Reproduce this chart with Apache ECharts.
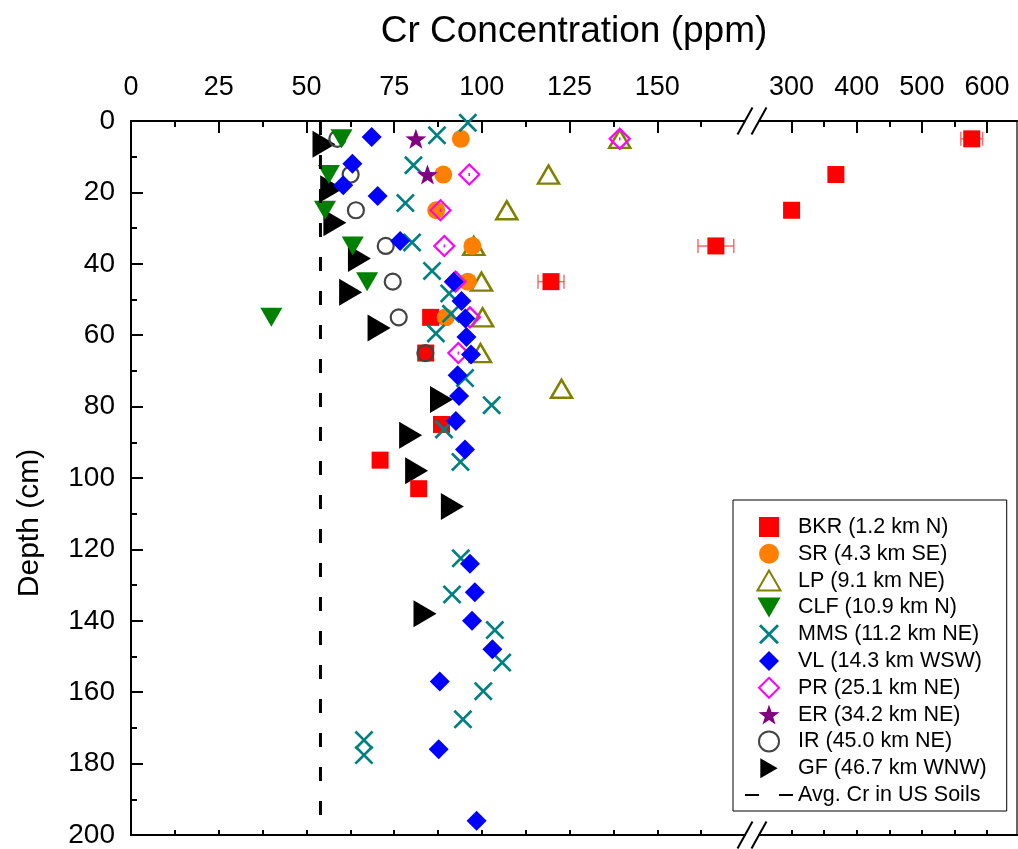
<!DOCTYPE html>
<html><head><meta charset="utf-8">
<script src="https://cdn.jsdelivr.net/npm/echarts@6/dist/echarts.min.js"></script>
<style>html,body{margin:0;padding:0;background:#fff}#c{width:1018px;height:849px}</style>
</head><body><div id="c"></div>
<script>
const FONT = '"Liberation Sans", Arial, sans-serif';

// ---- axis ticks ----
const leftTicks = [0, 25, 50, 75, 100, 125, 150];
const leftMinorTicks = [12.5, 37.5, 62.5, 87.5, 112.5, 137.5, 162.5];
const leftBottomTicks = [0, 12.5, 25, 37.5, 50, 62.5, 75, 87.5, 100, 112.5, 125, 137.5, 150, 162.5];
const rightTicks = [300, 400, 500, 600];
const rightMinorTicks = [350, 450, 550];
const rightBottomTicks = [300, 350, 400, 450, 500, 550, 600];

// ---- data (Cr ppm vs depth cm) ----
const avgCr = 54;
const bkrDepth = [5, 15, 25, 35, 45, 55, 65, 85, 95, 103];
const bkrCr    = [576.5, 368, 300, 166.7, 119.7, 85.4, 84, 88.5, 71, 82];
const bkrErr   = [16.7, 0, 0, 5.1, 3.7, 0, 0, 0, 0, 0];
const srDepth = [5, 15, 25, 35, 45, 55];
const srCr    = [94, 89, 87, 97.3, 96, 89.7];
const lpDepth = [5, 15, 25, 35, 45, 55, 65, 75];
const lpCr    = [139.3, 119, 107.1, 97.7, 99.9, 100.2, 99.6, 122.7];
const clfDepth = [5, 15, 25, 35, 45, 55];
const clfCr    = [60, 56.4, 55.3, 63.2, 67.3, 40];
const mmsDepth = [0.5, 4, 12.4, 23, 34, 42, 48.3, 54, 59.5, 72, 79.6, 86.4, 95.5, 122.5, 132.6, 142.6, 151.7, 159.7, 167.6, 173.4, 177.6];
const mmsCr    = [96, 87.2, 80.5, 78.2, 80.1, 85.8, 90.7, 91.2, 86.9, 95.2, 102.8, 89.2, 93.9, 94, 91.5, 103.7, 105.8, 100.4, 94.6, 66.4, 66.4];
const vlDepth = [4.5, 12, 18, 21, 33.6, 45, 50.4, 55.3, 60.5, 65.4, 71.2, 77, 84, 92, 124, 132, 140, 148, 157, 176, 196];
const vlCr    = [68.6, 63.1, 60.5, 70.3, 76.7, 92, 94.2, 95.3, 95.6, 96.9, 93.1, 93.5, 92.6, 95.2, 96.6, 98, 97.2, 103, 88, 87.7, 98.5];
const prDepth = [5, 15, 25, 35, 45, 55, 65];
const prCr    = [139.3, 96.4, 88.2, 89.3, 92.5, 96.6, 93.3];
const erDepth = [5, 15];
const erCr    = [81.2, 84.5];
const irDepth = [5, 15, 25, 35, 45, 55, 65];
const irCr    = [58.8, 62.6, 64.1, 72.6, 74.6, 76.3, 83.9];
const gfDepth = [6.5, 19, 28.5, 38.5, 48, 58, 78, 88, 98, 108, 138];
const gfCr    = [55, 57.2, 58.1, 65.1, 62.6, 70.7, 88.5, 79.7, 81.4, 91.6, 83.8];

const names = ['BKR (1.2 km N)', 'SR (4.3 km SE)', 'LP (9.1 km NE)', 'CLF (10.9 km N)', 'MMS (11.2 km NE)',
  'VL (14.3 km WSW)', 'PR (25.1 km NE)', 'ER (34.2 km NE)', 'IR (45.0 km NE)', 'GF (46.7 km WNW)', 'Avg. Cr in US Soils'];

const BREAK_LO = 175, BREAK_HI = 250;
function pts(cr, dep) { return cr.map((v, i) => [v, dep[i]]); }
const bkrAll = bkrCr.map((v, i) => [v, bkrDepth[i], bkrErr[i]]);
const bkrLeft = bkrAll.filter(p => p[0] <= BREAK_LO);
const bkrRight = bkrAll.filter(p => p[0] > BREAK_LO);

const SYM = {
  rect: 'path://M0,0L100,0L100,100L0,100Z',
  up: 'path://M50,0L100,86.6L0,86.6Z',
  diamond: 'path://M50,0L100,50L50,100L0,50Z',
  x: 'path://M0,10L10,0L50,40L90,0L100,10L60,50L100,90L90,100L50,60L10,100L0,90L40,50Z',
  star: 'path://M50,0L61.8,33.8L97.6,34.5L69,56.2L79.4,90.5L50,70L20.6,90.5L31,56.2L2.4,34.5L38.2,33.8Z',
  down: 'path://M0,0L100,0L50,86.6Z',
  right: 'path://M0,0L86.6,50L0,100Z'
};

function errSeries(data, xi, yi) {
  return {
    type: 'custom', xAxisIndex: xi, yAxisIndex: yi, silent: true,
    encode: { x: 0, y: 1 },
    data: data.filter(p => p[2] > 0),
    renderItem(params, api) {
      const x = api.value(0), y = api.value(1), e = api.value(2);
      const a = api.coord([x - e, y]), b = api.coord([x + e, y]);
      const st = { stroke: 'rgba(255,60,60,0.75)', lineWidth: 1.5 };
      return { type: 'group', children: [
        { type: 'line', shape: { x1: a[0], y1: a[1], x2: b[0], y2: b[1] }, style: st },
        { type: 'line', shape: { x1: a[0], y1: a[1] - 7, x2: a[0], y2: a[1] + 7 }, style: st },
        { type: 'line', shape: { x1: b[0], y1: b[1] - 7, x2: b[0], y2: b[1] + 7 }, style: st }
      ]};
    }
  };
}
function sc(name, data, symbol, size, style, xi, yi) {
  return { type: 'scatter', name, data, symbol, symbolSize: size,
    xAxisIndex: xi || 0, yAxisIndex: yi || 0, itemStyle: Object.assign({ opacity: 1 }, style),
    emphasis: { disabled: true } };
}

const axisLine = { show: true, lineStyle: { color: '#000', width: 2 } };
const noLine = { show: false };
const lab = { fontSize: 27, color: '#000', fontFamily: FONT };

const option = {
  animation: false,
  backgroundColor: '#fff',
  grid: [
    { left: 131, top: 121, width: 614, bottom: 14 },
    { left: 759, top: 121, width: 258, bottom: 14 }
  ],
  xAxis: [
    { gridIndex: 0, type: 'value', position: 'top', min: 0, max: BREAK_LO, axisLine,
      axisTick: { inside: true, length: 12, lineStyle: { width: 2, color: '#000' }, customValues: leftTicks },
      axisLabel: Object.assign({ margin: 20, customValues: leftTicks }, lab), splitLine: { show: false } },
    { gridIndex: 0, type: 'value', position: 'top', min: 0, max: BREAK_LO, axisLine: noLine,
      axisTick: { inside: true, length: 6, lineStyle: { width: 2, color: '#000' }, customValues: leftMinorTicks },
      axisLabel: { show: false }, splitLine: { show: false } },
    { gridIndex: 0, type: 'value', position: 'bottom', min: 0, max: BREAK_LO, axisLine,
      axisTick: { inside: true, length: 5, lineStyle: { width: 2, color: '#000' }, customValues: leftBottomTicks },
      axisLabel: { show: false }, splitLine: { show: false } },
    { gridIndex: 1, type: 'value', position: 'top', min: BREAK_HI, max: 646, axisLine,
      axisTick: { inside: true, length: 12, lineStyle: { width: 2, color: '#000' }, customValues: rightTicks },
      axisLabel: Object.assign({ margin: 20, customValues: rightTicks }, lab), splitLine: { show: false } },
    { gridIndex: 1, type: 'value', position: 'top', min: BREAK_HI, max: 646, axisLine: noLine,
      axisTick: { inside: true, length: 6, lineStyle: { width: 2, color: '#000' }, customValues: rightMinorTicks },
      axisLabel: { show: false }, splitLine: { show: false } },
    { gridIndex: 1, type: 'value', position: 'bottom', min: BREAK_HI, max: 646, axisLine,
      axisTick: { inside: true, length: 5, lineStyle: { width: 2, color: '#000' }, customValues: rightBottomTicks },
      axisLabel: { show: false }, splitLine: { show: false } }
  ],
  yAxis: [
    { gridIndex: 0, type: 'value', inverse: true, min: 0, max: 200, interval: 20, position: 'left', axisLine,
      axisTick: { inside: true, length: 12, lineStyle: { width: 2, color: '#000' } },
      minorTick: { show: true, splitNumber: 2, length: 6, lineStyle: { width: 2, color: '#000' } },
      axisLabel: Object.assign({ margin: 16 }, lab, { fontSize: 28 }), splitLine: { show: false } },
    { gridIndex: 1, type: 'value', inverse: true, min: 0, max: 200, position: 'right',
      axisLine: { show: true, lineStyle: { color: '#333', width: 1.5 } },
      axisTick: { show: false }, axisLabel: { show: false }, splitLine: { show: false } }
  ],
  legend: {
    orient: 'vertical', left: 733, top: 500,
    padding: [16, 20, 5, 11], itemWidth: 48, itemHeight: 20, itemGap: 4.8,
    borderColor: '#000', borderWidth: 1, backgroundColor: '#fff',
    textStyle: { fontSize: 21.5, color: '#000', fontFamily: FONT },
    selectedMode: false,
    data: names.map((n, i) => i === 10
      ? { name: n, itemStyle: { color: 'rgba(0,0,0,0)', borderWidth: 0, opacity: 0 } }
      : { name: n })
  },
  series: [
    { type: 'line', name: names[10], data: [[avgCr, 0], [avgCr, 200]], symbol: 'none', xAxisIndex: 0, yAxisIndex: 0,
      itemStyle: { color: 'rgba(0,0,0,0)' },
      lineStyle: { color: '#000', width: 3, type: [14, 20] }, silent: true },
    sc(names[9], pts(gfCr, gfDepth), SYM.right, [23, 27], { color: '#000' }),
    errSeries(bkrLeft, 0, 0),
    sc(names[0], bkrLeft.map(p => [p[0], p[1]]), SYM.rect, 17, { color: '#ff0000' }),
    errSeries(bkrRight, 3, 1),
    sc(names[0], bkrRight.map(p => [p[0], p[1]]), SYM.rect, 17, { color: '#ff0000' }, 3, 1),
    sc(names[8], pts(irCr, irDepth), 'circle', 16, { color: 'rgba(0,0,0,0)', borderColor: '#444', borderWidth: 2.2 }),
    sc(names[2], pts(lpCr, lpDepth), SYM.up, [21, 18], { color: 'rgba(0,0,0,0)', borderColor: '#808000', borderWidth: 2.5 }),
    sc(names[1], pts(srCr, srDepth), 'circle', 18, { color: '#ff8000' }),
    sc(names[3], pts(clfCr, clfDepth), SYM.down, [22, 19], { color: '#008000' }),
    sc(names[4], pts(mmsCr, mmsDepth), SYM.x, 19, { color: '#008080' }),
    sc(names[6], pts(prCr, prDepth), SYM.diamond, 20, { color: 'rgba(0,0,0,0)', borderColor: '#ff00ff', borderWidth: 2.2 }),
    { type: 'scatter', data: pts(prCr, prDepth), symbol: 'rect', symbolSize: [1.5, 3],
      itemStyle: { color: '#ff00ff', opacity: 1 }, silent: true },
    sc(names[5], pts(vlCr, vlDepth), SYM.diamond, 20, { color: '#0000ff' }),
    sc(names[7], pts(erCr, erDepth), SYM.star, [21, 20], { color: '#800080' })
  ]
};

const chart = echarts.init(document.getElementById('c'), null, { renderer: 'canvas' });
chart.setOption(option);

// break marks and titles
const xL = chart.convertToPixel({ xAxisIndex: 0 }, BREAK_LO);
const xR = chart.convertToPixel({ xAxisIndex: 3 }, BREAK_HI);
const yT = chart.convertToPixel({ yAxisIndex: 0 }, 0);
const yB = chart.convertToPixel({ yAxisIndex: 0 }, 200);
const marks = [];
[xL, xR].forEach(cx => [yT, yB].forEach(cy => {
  marks.push({ type: 'line', shape: { x1: cx - 7.5, y1: cy + 13.5, x2: cx + 7.5, y2: cy - 13.5 },
    style: { stroke: '#000', lineWidth: 2 }, z: 100 });
}));
const xMid = (chart.convertToPixel({ xAxisIndex: 0 }, 0) + chart.convertToPixel({ xAxisIndex: 3 }, 646)) / 2;
marks.push({ type: 'text', x: xMid, y: 32, z: 100,
  style: { text: 'Cr Concentration (ppm)', font: '37px ' + FONT, fill: '#000', align: 'center', verticalAlign: 'middle' } });
marks.push({ type: 'text', x: 30, y: 523, rotation: Math.PI / 2, z: 100,
  style: { text: 'Depth (cm)', font: '30px ' + FONT, fill: '#000', align: 'center', verticalAlign: 'middle' } });
chart.setOption({ graphic: marks });
</script></body></html>
